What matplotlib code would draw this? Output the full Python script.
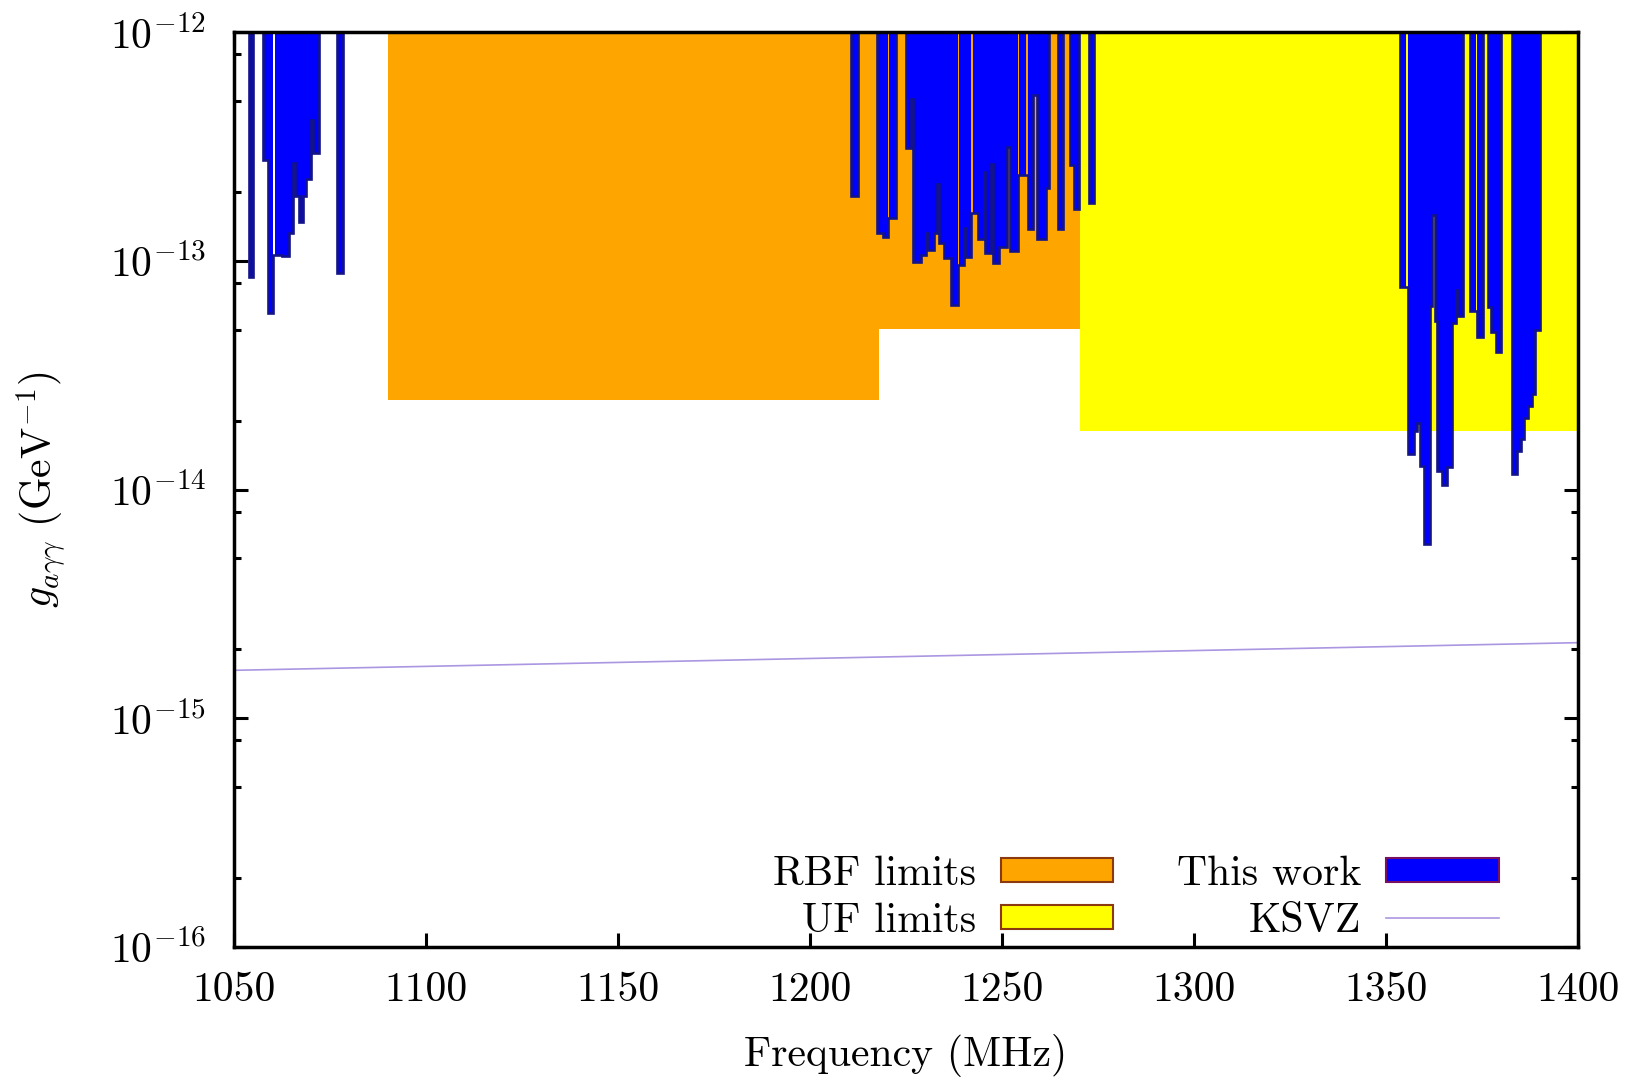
import numpy as np
import matplotlib
matplotlib.use("Agg")
import matplotlib.pyplot as plt
from matplotlib.patches import Patch
from matplotlib.lines import Line2D
from matplotlib.ticker import FixedLocator, NullFormatter, LogFormatterSciNotation

plt.rcParams['font.family'] = ['cmr10', 'DejaVu Serif']
plt.rcParams['mathtext.fontset'] = 'cm'
plt.rcParams['axes.formatter.use_mathtext'] = True
plt.rcParams['axes.unicode_minus'] = False

# ---------------- data ----------------
x_ticks = [1050, 1100, 1150, 1200, 1250, 1300, 1350, 1400]
y_ticks = [1e-16, 1e-15, 1e-14, 1e-13, 1e-12]
y_minor_subs = [2, 5, 8]

# RBF limits: frequency edges and limit per segment
rbf_edges = [1090.0, 1218.0, 1270.3]
rbf_limit = [2.46e-14, 5.03e-14]

# UF limits
uf_edges = [1270.3, 1400.0]
uf_limit = [1.80e-14]

# KSVZ line
ksvz_f = [1050.0, 1400.0]
ksvz_g = [1.62e-15, 2.14e-15]

# This work: bin low edge, high edge, limit
tw_lo = [1054.0, 1057.6, 1058.9, 1060.6, 1062.4, 1064.3, 1065.4, 1065.8, 1067.0, 1067.9,
         1068.7, 1070.0, 1070.6, 1076.9,
         1210.7, 1217.5, 1219.0, 1220.7, 1224.9, 1226.3, 1226.9, 1228.9, 1230.1, 1230.6,
         1232.2, 1233.2, 1233.7, 1235.0, 1236.8, 1238.9, 1240.0, 1240.5, 1242.4, 1243.7,
         1245.2, 1245.6, 1247.2, 1247.6, 1249.3, 1251.3, 1252.2, 1254.5, 1256.7, 1258.2,
         1259.2, 1261.5, 1264.5, 1267.8, 1268.7, 1272.7,
         1353.6, 1355.6, 1357.3, 1358.1, 1358.8, 1359.9, 1361.4, 1362.1, 1362.7, 1363.3,
         1364.5, 1366.0, 1367.1, 1368.2, 1368.8, 1371.8, 1373.8, 1376.6, 1377.3, 1378.6,
         1382.7, 1384.2, 1385.1, 1385.9, 1387.0, 1387.9, 1388.9]
tw_hi = [1055.0, 1058.9, 1060.2, 1062.4, 1064.3, 1065.4, 1065.8, 1067.0, 1067.9, 1068.7,
         1070.0, 1070.6, 1072.1, 1078.4,
         1212.4, 1219.0, 1220.3, 1222.3, 1226.3, 1226.9, 1228.9, 1230.1, 1230.6, 1232.2,
         1233.2, 1233.7, 1235.0, 1236.8, 1238.5, 1240.0, 1240.5, 1242.0, 1243.7, 1245.2,
         1245.6, 1247.2, 1247.6, 1249.3, 1251.3, 1252.2, 1254.1, 1256.3, 1258.2, 1259.2,
         1261.5, 1262.3, 1266.0, 1268.7, 1270.1, 1274.0,
         1355.2, 1357.3, 1358.1, 1358.8, 1359.9, 1361.4, 1362.1, 1362.7, 1363.3, 1364.5,
         1366.0, 1367.1, 1368.2, 1368.8, 1370.1, 1373.4, 1375.3, 1377.3, 1378.6, 1380.0,
         1384.2, 1385.1, 1385.9, 1387.0, 1387.9, 1388.9, 1390.0]
tw_g = [8.5e-14, 2.77e-13, 5.9e-14, 1.06e-13, 1.05e-13, 1.32e-13, 2.67e-13, 1.91e-13, 1.48e-13, 1.91e-13,
        2.27e-13, 4.12e-13, 2.95e-13, 8.8e-14,
        1.92e-13, 1.32e-13, 1.27e-13, 1.54e-13, 3.12e-13, 5.1e-13, 9.9e-14, 1.06e-13, 1.32e-13, 1.11e-13,
        1.32e-13, 2.16e-13, 1.20e-13, 1.03e-13, 6.4e-14, 9.6e-14, 1.39e-13, 1.04e-13, 1.61e-13, 1.25e-13,
        2.45e-13, 1.08e-13, 2.64e-13, 9.75e-14, 1.15e-13, 3.15e-13, 1.10e-13, 2.37e-13, 1.38e-13, 5.3e-13,
        1.24e-13, 2.07e-13, 1.38e-13, 2.62e-13, 1.69e-13, 1.78e-13,
        7.7e-14, 1.43e-14, 1.80e-14, 1.96e-14, 1.27e-14, 5.8e-15, 6.35e-14, 1.59e-13, 5.43e-14, 1.20e-14,
        1.05e-14, 1.25e-14, 5.34e-14, 7.43e-14, 5.73e-14, 6.03e-14, 4.66e-14, 6.25e-14, 4.90e-14, 3.98e-14,
        1.17e-14, 1.48e-14, 1.67e-14, 2.06e-14, 2.32e-14, 2.62e-14, 4.99e-14]

# ---------------- style ----------------
C_ORANGE = '#FFA500'
C_YELLOW = '#FFFF00'
C_BLUE = '#0000FF'
C_NAVY = '#13138a'
C_KSVZ = '#ab96e2'
FS = 30

YMIN, YMAX = y_ticks[0], y_ticks[-1]

fig = plt.figure(figsize=(16.39, 10.80), dpi=100)
ax = fig.add_axes([234 / 1639, 1 - 947 / 1080, (1578 - 234) / 1639, (947 - 32) / 1080])
ax.set_yscale('log')
ax.set_xlim(x_ticks[0], x_ticks[-1])
ax.set_ylim(YMIN, YMAX)

# RBF and UF regions
rbf_lo = np.array(rbf_edges[:-1]); rbf_w = np.diff(rbf_edges)
ax.bar(rbf_lo, YMAX - np.array(rbf_limit), bottom=rbf_limit, width=rbf_w, align='edge',
       color=C_ORANGE, linewidth=0, zorder=2)
uf_lo = np.array(uf_edges[:-1]); uf_w = np.diff(uf_edges)
ax.bar(uf_lo, YMAX - np.array(uf_limit), bottom=uf_limit, width=uf_w, align='edge',
       color=C_YELLOW, linewidth=0, zorder=2)

# KSVZ
ax.plot(ksvz_f, ksvz_g, color=C_KSVZ, lw=1.2, zorder=2.2)

# This work: fills per contiguous run, outline per cluster
lo = np.array(tw_lo); hi = np.array(tw_hi); g = np.array(tw_g)
order = np.argsort(lo)
lo, hi, g = lo[order], hi[order], g[order]

runs = []
for i in range(len(lo)):
    if runs and np.isclose(lo[i], hi[runs[-1][-1]]):
        runs[-1].append(i)
    else:
        runs.append([i])
for run in runs:
    xs = [lo[run[0]]]; ys = [YMAX]
    for i in run:
        xs += [lo[i], hi[i]]; ys += [g[i], g[i]]
    xs.append(hi[run[-1]]); ys.append(YMAX)
    ax.fill(xs, ys, color=C_BLUE, linewidth=0, zorder=3)

clusters = []
for i in range(len(lo)):
    if clusters and lo[i] - hi[clusters[-1][-1]] <= 0.6:
        clusters[-1].append(i)
    else:
        clusters.append([i])
for cl in clusters:
    i0 = cl[0]
    xs = [lo[i0], lo[i0], hi[i0]]; ys = [YMAX, g[i0], g[i0]]
    prev = i0
    for j in cl[1:]:
        if np.isclose(lo[j], hi[prev]):
            xs += [lo[j], hi[j]]; ys += [g[j], g[j]]
        else:
            if g[prev] < g[j]:
                xs += [hi[prev], lo[j], hi[j]]; ys += [g[j], g[j], g[j]]
            else:
                xs += [lo[j], lo[j], hi[j]]; ys += [g[prev], g[j], g[j]]
        prev = j
    xs.append(hi[prev]); ys.append(YMAX)
    ax.plot(xs, ys, color=C_NAVY, lw=1.9, solid_joinstyle='miter', solid_capstyle='butt', zorder=4)

# axes styling
ax.set_xticks(x_ticks)
ax.set_xticklabels([str(t) for t in x_ticks])
ax.yaxis.set_major_locator(FixedLocator(y_ticks))
ax.yaxis.set_major_formatter(LogFormatterSciNotation())
minor_pos = [d * s for d in y_ticks[:-1] for s in y_minor_subs]
ax.yaxis.set_minor_locator(FixedLocator(minor_pos))
ax.yaxis.set_minor_formatter(NullFormatter())
ax.tick_params(which='both', direction='in', top=True, right=True, width=2.2, labelsize=FS)
ax.tick_params(which='major', length=10)
ax.tick_params(which='minor', length=5)
ax.tick_params(axis='x', which='both', pad=18)
ax.tick_params(axis='y', which='both', pad=20)
for sp in ax.spines.values():
    sp.set_linewidth(2.5)
    sp.set_zorder(10)

ax.set_xlabel('Frequency (MHz)', fontsize=FS, labelpad=18)
ax.set_ylabel(r'$g_{a\gamma\gamma}$ (GeV$^{-1}$)', fontsize=FS, labelpad=30)

handles = [Patch(facecolor=C_ORANGE, edgecolor='#8b3a10', linewidth=1.5),
           Patch(facecolor=C_YELLOW, edgecolor='#8b3a10', linewidth=1.5),
           Patch(facecolor=C_BLUE, edgecolor='#7a1060', linewidth=1.5),
           Line2D([], [], color=C_KSVZ, lw=1.2)]
labels = ['RBF limits', 'UF limits', 'This work', 'KSVZ']
leg = ax.legend(handles, labels, ncol=2, loc='lower right', bbox_to_anchor=(0.941, 0.008),
                frameon=False, markerfirst=False, fontsize=FS, handlelength=2.7,
                handleheight=0.5, handletextpad=0.6, columnspacing=1.52, labelspacing=0.22,
                borderpad=0, borderaxespad=0)
leg.set_zorder(20)

fig.savefig('out.png', dpi=100)
